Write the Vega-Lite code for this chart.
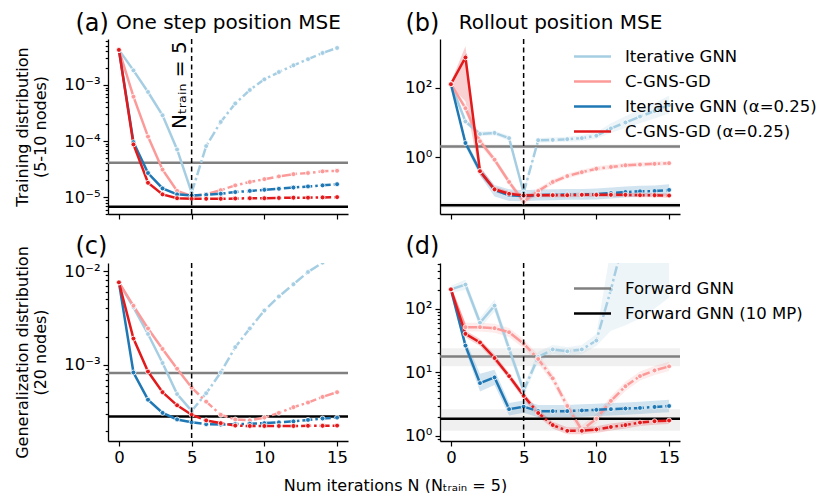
{
"$schema":"https://vega.github.io/schema/vega-lite/v6.json",
"background":"white",
"padding":{"left":14,"top":11,"right":0,"bottom":0},
"bounds":"flush",
"columns":2,
"spacing":{"row":49,"column":92},
"config":{
 "font":"DejaVu Sans",
 "view":{"stroke":null},
 "axis":{"labelFont":"DejaVu Sans","titleFont":"DejaVu Sans","labelFontSize":16.5,"titleFontSize":16,"titleFontWeight":"normal","labelColor":"black","titleColor":"black","domainColor":"black","tickColor":"black","grid":false,"domainWidth":1.3,"tickWidth":1.2,"labelOverlap":false},
 "text":{"font":"DejaVu Sans","color":"black"}
},
"datasets":{
"ba":[{"name":"Forward GNN","v":4.1e-5},{"name":"Forward GNN (10 MP)","v":6.7e-6}],
"bb":[{"name":"Forward GNN","v":2.04,"lo":1.78,"hi":2.34},{"name":"Forward GNN (10 MP)","v":0.0417,"lo":0.035,"hi":0.05}],
"bc":[{"name":"Forward GNN","v":8.22e-4},{"name":"Forward GNN (10 MP)","v":2.82e-4}],
"bd":[{"name":"Forward GNN","v":17.8,"lo":12.4,"hi":24},{"name":"Forward GNN (10 MP)","v":1.86,"lo":1.2,"hi":2.63}],
"a":[
{"s":"Iterative GNN","x":0,"v":4.22e-3},{"s":"Iterative GNN","x":1,"v":1.82e-3},{"s":"Iterative GNN","x":2,"v":7.5e-4},{"s":"Iterative GNN","x":3,"v":2.88e-4},{"s":"Iterative GNN","x":4,"v":7.08e-5},{"s":"Iterative GNN","x":5,"v":1.2e-5},{"s":"Iterative GNN","x":6,"v":8.13e-5},{"s":"Iterative GNN","x":7,"v":2.19e-4},{"s":"Iterative GNN","x":8,"v":4.68e-4},{"s":"Iterative GNN","x":9,"v":8.13e-4},{"s":"Iterative GNN","x":10,"v":1.26e-3},{"s":"Iterative GNN","x":11,"v":1.7e-3},{"s":"Iterative GNN","x":12,"v":2.24e-3},{"s":"Iterative GNN","x":13,"v":2.88e-3},{"s":"Iterative GNN","x":14,"v":3.72e-3},{"s":"Iterative GNN","x":15,"v":4.57e-3},
{"s":"C-GNS-GD","x":0,"v":4.22e-3},{"s":"C-GNS-GD","x":1,"v":6.17e-4},{"s":"C-GNS-GD","x":2,"v":1.2e-4},{"s":"C-GNS-GD","x":3,"v":3.09e-5},{"s":"C-GNS-GD","x":4,"v":1.29e-5},{"s":"C-GNS-GD","x":5,"v":1.05e-5},{"s":"C-GNS-GD","x":6,"v":1.12e-5},{"s":"C-GNS-GD","x":7,"v":1.33e-5},{"s":"C-GNS-GD","x":8,"v":1.62e-5},{"s":"C-GNS-GD","x":9,"v":1.86e-5},{"s":"C-GNS-GD","x":10,"v":2.09e-5},{"s":"C-GNS-GD","x":11,"v":2.34e-5},{"s":"C-GNS-GD","x":12,"v":2.57e-5},{"s":"C-GNS-GD","x":13,"v":2.69e-5},{"s":"C-GNS-GD","x":14,"v":2.88e-5},{"s":"C-GNS-GD","x":15,"v":2.95e-5},
{"s":"Iterative GNN (α=0.25)","x":0,"v":4.22e-3},{"s":"Iterative GNN (α=0.25)","x":1,"v":9.55e-5},{"s":"Iterative GNN (α=0.25)","x":2,"v":2.69e-5},{"s":"Iterative GNN (α=0.25)","x":3,"v":1.43e-5},{"s":"Iterative GNN (α=0.25)","x":4,"v":1.12e-5},{"s":"Iterative GNN (α=0.25)","x":5,"v":1.07e-5},{"s":"Iterative GNN (α=0.25)","x":6,"v":1.1e-5},{"s":"Iterative GNN (α=0.25)","x":7,"v":1.15e-5},{"s":"Iterative GNN (α=0.25)","x":8,"v":1.23e-5},{"s":"Iterative GNN (α=0.25)","x":9,"v":1.29e-5},{"s":"Iterative GNN (α=0.25)","x":10,"v":1.35e-5},{"s":"Iterative GNN (α=0.25)","x":11,"v":1.41e-5},{"s":"Iterative GNN (α=0.25)","x":12,"v":1.48e-5},{"s":"Iterative GNN (α=0.25)","x":13,"v":1.55e-5},{"s":"Iterative GNN (α=0.25)","x":14,"v":1.62e-5},{"s":"Iterative GNN (α=0.25)","x":15,"v":1.7e-5},
{"s":"C-GNS-GD (α=0.25)","x":0,"v":4.22e-3},{"s":"C-GNS-GD (α=0.25)","x":1,"v":8.71e-5},{"s":"C-GNS-GD (α=0.25)","x":2,"v":1.8e-5},{"s":"C-GNS-GD (α=0.25)","x":3,"v":1.12e-5},{"s":"C-GNS-GD (α=0.25)","x":4,"v":9.55e-6},{"s":"C-GNS-GD (α=0.25)","x":5,"v":9.33e-6},{"s":"C-GNS-GD (α=0.25)","x":6,"v":9.33e-6},{"s":"C-GNS-GD (α=0.25)","x":7,"v":9.33e-6},{"s":"C-GNS-GD (α=0.25)","x":8,"v":9.44e-6},{"s":"C-GNS-GD (α=0.25)","x":9,"v":9.55e-6},{"s":"C-GNS-GD (α=0.25)","x":10,"v":9.55e-6},{"s":"C-GNS-GD (α=0.25)","x":11,"v":9.66e-6},{"s":"C-GNS-GD (α=0.25)","x":12,"v":9.77e-6},{"s":"C-GNS-GD (α=0.25)","x":13,"v":9.77e-6},{"s":"C-GNS-GD (α=0.25)","x":14,"v":9.89e-6},{"s":"C-GNS-GD (α=0.25)","x":15,"v":1.0e-5}
],
"b":[
{"s":"Iterative GNN","x":0,"v":126,"lo":110,"hi":145},{"s":"Iterative GNN","x":1,"v":10.7,"lo":9,"hi":13},{"s":"Iterative GNN","x":2,"v":4.68,"lo":4,"hi":5.5},{"s":"Iterative GNN","x":3,"v":5.01,"lo":4.3,"hi":5.8},{"s":"Iterative GNN","x":4,"v":3.55,"lo":3,"hi":4.2},{"s":"Iterative GNN","x":5,"v":0.0955,"lo":0.08,"hi":0.115},{"s":"Iterative GNN","x":6,"v":3.09,"lo":2.6,"hi":3.6},{"s":"Iterative GNN","x":7,"v":3.16,"lo":2.7,"hi":3.7},{"s":"Iterative GNN","x":8,"v":3.31,"lo":2.8,"hi":3.9},{"s":"Iterative GNN","x":9,"v":3.55,"lo":2.9,"hi":4.3},{"s":"Iterative GNN","x":10,"v":4.17,"lo":3.4,"hi":5.2},{"s":"Iterative GNN","x":11,"v":6.76,"lo":5,"hi":9.5},{"s":"Iterative GNN","x":12,"v":10.0,"lo":7,"hi":15},{"s":"Iterative GNN","x":13,"v":14.8,"lo":9.5,"hi":24},{"s":"Iterative GNN","x":14,"v":21.4,"lo":13,"hi":36},{"s":"Iterative GNN","x":15,"v":31.6,"lo":18,"hi":60},
{"s":"C-GNS-GD","x":0,"v":126,"lo":110,"hi":145},{"s":"C-GNS-GD","x":1,"v":25.7,"lo":19,"hi":34},{"s":"C-GNS-GD","x":2,"v":2.88,"lo":2.2,"hi":3.8},{"s":"C-GNS-GD","x":3,"v":0.851,"lo":0.7,"hi":1.05},{"s":"C-GNS-GD","x":4,"v":0.195,"lo":0.16,"hi":0.24},{"s":"C-GNS-GD","x":5,"v":0.0525,"lo":0.044,"hi":0.063},{"s":"C-GNS-GD","x":6,"v":0.107,"lo":0.09,"hi":0.13},{"s":"C-GNS-GD","x":7,"v":0.195,"lo":0.165,"hi":0.23},{"s":"C-GNS-GD","x":8,"v":0.288,"lo":0.245,"hi":0.34},{"s":"C-GNS-GD","x":9,"v":0.372,"lo":0.32,"hi":0.44},{"s":"C-GNS-GD","x":10,"v":0.468,"lo":0.4,"hi":0.55},{"s":"C-GNS-GD","x":11,"v":0.525,"lo":0.45,"hi":0.62},{"s":"C-GNS-GD","x":12,"v":0.589,"lo":0.5,"hi":0.69},{"s":"C-GNS-GD","x":13,"v":0.617,"lo":0.53,"hi":0.72},{"s":"C-GNS-GD","x":14,"v":0.646,"lo":0.56,"hi":0.75},{"s":"C-GNS-GD","x":15,"v":0.676,"lo":0.59,"hi":0.78},
{"s":"Iterative GNN (α=0.25)","x":0,"v":126,"lo":110,"hi":145},{"s":"Iterative GNN (α=0.25)","x":1,"v":2.57,"lo":2.0,"hi":3.3},{"s":"Iterative GNN (α=0.25)","x":2,"v":0.398,"lo":0.3,"hi":0.52},{"s":"Iterative GNN (α=0.25)","x":3,"v":0.115,"lo":0.075,"hi":0.16},{"s":"Iterative GNN (α=0.25)","x":4,"v":0.0813,"lo":0.055,"hi":0.12},{"s":"Iterative GNN (α=0.25)","x":5,"v":0.0776,"lo":0.054,"hi":0.113},{"s":"Iterative GNN (α=0.25)","x":6,"v":0.0813,"lo":0.057,"hi":0.118},{"s":"Iterative GNN (α=0.25)","x":7,"v":0.0832,"lo":0.058,"hi":0.121},{"s":"Iterative GNN (α=0.25)","x":8,"v":0.0851,"lo":0.06,"hi":0.123},{"s":"Iterative GNN (α=0.25)","x":9,"v":0.0851,"lo":0.06,"hi":0.123},{"s":"Iterative GNN (α=0.25)","x":10,"v":0.0871,"lo":0.061,"hi":0.126},{"s":"Iterative GNN (α=0.25)","x":11,"v":0.0933,"lo":0.065,"hi":0.135},{"s":"Iterative GNN (α=0.25)","x":12,"v":0.1,"lo":0.07,"hi":0.145},{"s":"Iterative GNN (α=0.25)","x":13,"v":0.105,"lo":0.074,"hi":0.152},{"s":"Iterative GNN (α=0.25)","x":14,"v":0.107,"lo":0.075,"hi":0.155},{"s":"Iterative GNN (α=0.25)","x":15,"v":0.115,"lo":0.08,"hi":0.167},
{"s":"C-GNS-GD (α=0.25)","x":0,"v":126,"lo":110,"hi":145},{"s":"C-GNS-GD (α=0.25)","x":1,"v":741,"lo":40,"hi":1550},{"s":"C-GNS-GD (α=0.25)","x":2,"v":0.398,"lo":0.3,"hi":0.55},{"s":"C-GNS-GD (α=0.25)","x":3,"v":0.12,"lo":0.1,"hi":0.145},{"s":"C-GNS-GD (α=0.25)","x":4,"v":0.0891,"lo":0.076,"hi":0.105},{"s":"C-GNS-GD (α=0.25)","x":5,"v":0.0794,"lo":0.069,"hi":0.091},{"s":"C-GNS-GD (α=0.25)","x":6,"v":0.0813,"lo":0.071,"hi":0.094},{"s":"C-GNS-GD (α=0.25)","x":7,"v":0.0813,"lo":0.071,"hi":0.094},{"s":"C-GNS-GD (α=0.25)","x":8,"v":0.0813,"lo":0.071,"hi":0.094},{"s":"C-GNS-GD (α=0.25)","x":9,"v":0.0832,"lo":0.072,"hi":0.096},{"s":"C-GNS-GD (α=0.25)","x":10,"v":0.0832,"lo":0.072,"hi":0.096},{"s":"C-GNS-GD (α=0.25)","x":11,"v":0.0832,"lo":0.072,"hi":0.096},{"s":"C-GNS-GD (α=0.25)","x":12,"v":0.0832,"lo":0.072,"hi":0.096},{"s":"C-GNS-GD (α=0.25)","x":13,"v":0.0813,"lo":0.071,"hi":0.094},{"s":"C-GNS-GD (α=0.25)","x":14,"v":0.0813,"lo":0.071,"hi":0.094},{"s":"C-GNS-GD (α=0.25)","x":15,"v":0.0794,"lo":0.069,"hi":0.091}
],
"c":[
{"s":"Iterative GNN","x":0,"v":7.59e-3},{"s":"Iterative GNN","x":1,"v":4.11e-3},{"s":"Iterative GNN","x":2,"v":2.14e-3},{"s":"Iterative GNN","x":3,"v":1.05e-3},{"s":"Iterative GNN","x":4,"v":4.9e-4},{"s":"Iterative GNN","x":5,"v":3.24e-4},{"s":"Iterative GNN","x":6,"v":5.0e-4},{"s":"Iterative GNN","x":7,"v":8.32e-4},{"s":"Iterative GNN","x":8,"v":1.55e-3},{"s":"Iterative GNN","x":9,"v":2.45e-3},{"s":"Iterative GNN","x":10,"v":3.8e-3},{"s":"Iterative GNN","x":11,"v":5.37e-3},{"s":"Iterative GNN","x":12,"v":7.24e-3},{"s":"Iterative GNN","x":13,"v":9.77e-3},{"s":"Iterative GNN","x":14,"v":1.23e-2},{"s":"Iterative GNN","x":15,"v":1.51e-2},
{"s":"C-GNS-GD","x":0,"v":7.59e-3},{"s":"C-GNS-GD","x":1,"v":4.27e-3},{"s":"C-GNS-GD","x":2,"v":2.45e-3},{"s":"C-GNS-GD","x":3,"v":1.48e-3},{"s":"C-GNS-GD","x":4,"v":9.12e-4},{"s":"C-GNS-GD","x":5,"v":5.75e-4},{"s":"C-GNS-GD","x":6,"v":4.07e-4},{"s":"C-GNS-GD","x":7,"v":2.95e-4},{"s":"C-GNS-GD","x":8,"v":2.63e-4},{"s":"C-GNS-GD","x":9,"v":2.57e-4},{"s":"C-GNS-GD","x":10,"v":2.75e-4},{"s":"C-GNS-GD","x":11,"v":3.09e-4},{"s":"C-GNS-GD","x":12,"v":3.55e-4},{"s":"C-GNS-GD","x":13,"v":3.98e-4},{"s":"C-GNS-GD","x":14,"v":4.57e-4},{"s":"C-GNS-GD","x":15,"v":5.13e-4},
{"s":"Iterative GNN (α=0.25)","x":0,"v":7.59e-3},{"s":"Iterative GNN (α=0.25)","x":1,"v":8.32e-4},{"s":"Iterative GNN (α=0.25)","x":2,"v":4.27e-4},{"s":"Iterative GNN (α=0.25)","x":3,"v":3.09e-4},{"s":"Iterative GNN (α=0.25)","x":4,"v":2.63e-4},{"s":"Iterative GNN (α=0.25)","x":5,"v":2.45e-4},{"s":"Iterative GNN (α=0.25)","x":6,"v":2.34e-4},{"s":"Iterative GNN (α=0.25)","x":7,"v":2.32e-4},{"s":"Iterative GNN (α=0.25)","x":8,"v":2.34e-4},{"s":"Iterative GNN (α=0.25)","x":9,"v":2.37e-4},{"s":"Iterative GNN (α=0.25)","x":10,"v":2.4e-4},{"s":"Iterative GNN (α=0.25)","x":11,"v":2.45e-4},{"s":"Iterative GNN (α=0.25)","x":12,"v":2.51e-4},{"s":"Iterative GNN (α=0.25)","x":13,"v":2.6e-4},{"s":"Iterative GNN (α=0.25)","x":14,"v":2.69e-4},{"s":"Iterative GNN (α=0.25)","x":15,"v":2.75e-4},
{"s":"C-GNS-GD (α=0.25)","x":0,"v":7.59e-3},{"s":"C-GNS-GD (α=0.25)","x":1,"v":1.91e-3},{"s":"C-GNS-GD (α=0.25)","x":2,"v":8.51e-4},{"s":"C-GNS-GD (α=0.25)","x":3,"v":5.13e-4},{"s":"C-GNS-GD (α=0.25)","x":4,"v":3.72e-4},{"s":"C-GNS-GD (α=0.25)","x":5,"v":2.95e-4},{"s":"C-GNS-GD (α=0.25)","x":6,"v":2.57e-4},{"s":"C-GNS-GD (α=0.25)","x":7,"v":2.4e-4},{"s":"C-GNS-GD (α=0.25)","x":8,"v":2.26e-4},{"s":"C-GNS-GD (α=0.25)","x":9,"v":2.24e-4},{"s":"C-GNS-GD (α=0.25)","x":10,"v":2.24e-4},{"s":"C-GNS-GD (α=0.25)","x":11,"v":2.24e-4},{"s":"C-GNS-GD (α=0.25)","x":12,"v":2.24e-4},{"s":"C-GNS-GD (α=0.25)","x":13,"v":2.25e-4},{"s":"C-GNS-GD (α=0.25)","x":14,"v":2.25e-4},{"s":"C-GNS-GD (α=0.25)","x":15,"v":2.26e-4}
],
"d":[
{"s":"Iterative GNN","x":0,"v":202,"lo":175,"hi":230},{"s":"Iterative GNN","x":1,"v":240,"lo":200,"hi":290},{"s":"Iterative GNN","x":2,"v":60.3,"lo":50,"hi":72},{"s":"Iterative GNN","x":3,"v":112,"lo":90,"hi":140},{"s":"Iterative GNN","x":4,"v":23.4,"lo":19,"hi":29},{"s":"Iterative GNN","x":5,"v":5.13,"lo":4.2,"hi":6.2},{"s":"Iterative GNN","x":6,"v":17.4,"lo":14.5,"hi":21},{"s":"Iterative GNN","x":7,"v":22.9,"lo":19.5,"hi":27},{"s":"Iterative GNN","x":8,"v":21.4,"lo":18,"hi":25},{"s":"Iterative GNN","x":9,"v":22.9,"lo":19.5,"hi":27},{"s":"Iterative GNN","x":10,"v":31.6,"lo":26,"hi":40},{"s":"Iterative GNN","x":11,"v":200,"lo":45,"hi":900},{"s":"Iterative GNN","x":12,"v":1580,"lo":55,"hi":10000},{"s":"Iterative GNN","x":13,"v":3980,"lo":70,"hi":10000},{"s":"Iterative GNN","x":14,"v":10000,"lo":100,"hi":20000},{"s":"Iterative GNN","x":15,"v":20000,"lo":150,"hi":30000},
{"s":"C-GNS-GD","x":0,"v":202,"lo":175,"hi":230},{"s":"C-GNS-GD","x":1,"v":51.3,"lo":44,"hi":60},{"s":"C-GNS-GD","x":2,"v":51.3,"lo":44,"hi":60},{"s":"C-GNS-GD","x":3,"v":49.5,"lo":42,"hi":58},{"s":"C-GNS-GD","x":4,"v":42.7,"lo":36,"hi":50},{"s":"C-GNS-GD","x":5,"v":28.2,"lo":24,"hi":33},{"s":"C-GNS-GD","x":6,"v":16.2,"lo":13.8,"hi":19},{"s":"C-GNS-GD","x":7,"v":8.04,"lo":6.8,"hi":9.5},{"s":"C-GNS-GD","x":8,"v":2.95,"lo":2.5,"hi":3.5},{"s":"C-GNS-GD","x":9,"v":1.23,"lo":1.0,"hi":1.45},{"s":"C-GNS-GD","x":10,"v":1.86,"lo":1.58,"hi":2.2},{"s":"C-GNS-GD","x":11,"v":3.55,"lo":3.0,"hi":4.2},{"s":"C-GNS-GD","x":12,"v":6.03,"lo":5.1,"hi":7.1},{"s":"C-GNS-GD","x":13,"v":8.71,"lo":7.4,"hi":10.3},{"s":"C-GNS-GD","x":14,"v":10.7,"lo":9.1,"hi":12.6},{"s":"C-GNS-GD","x":15,"v":12.4,"lo":10.5,"hi":14.6},
{"s":"Iterative GNN (α=0.25)","x":0,"v":202,"lo":175,"hi":230},{"s":"Iterative GNN (α=0.25)","x":1,"v":26.3,"lo":22,"hi":32},{"s":"Iterative GNN (α=0.25)","x":2,"v":6.76,"lo":5,"hi":9.5},{"s":"Iterative GNN (α=0.25)","x":3,"v":8.32,"lo":6.3,"hi":11},{"s":"Iterative GNN (α=0.25)","x":4,"v":2.63,"lo":2.1,"hi":3.3},{"s":"Iterative GNN (α=0.25)","x":5,"v":2.88,"lo":2.3,"hi":3.6},{"s":"Iterative GNN (α=0.25)","x":6,"v":2.45,"lo":1.96,"hi":3.06},{"s":"Iterative GNN (α=0.25)","x":7,"v":2.45,"lo":1.96,"hi":3.06},{"s":"Iterative GNN (α=0.25)","x":8,"v":2.45,"lo":1.96,"hi":3.06},{"s":"Iterative GNN (α=0.25)","x":9,"v":2.51,"lo":2.0,"hi":3.14},{"s":"Iterative GNN (α=0.25)","x":10,"v":2.57,"lo":2.06,"hi":3.2},{"s":"Iterative GNN (α=0.25)","x":11,"v":2.63,"lo":2.1,"hi":3.3},{"s":"Iterative GNN (α=0.25)","x":12,"v":2.69,"lo":2.15,"hi":3.36},{"s":"Iterative GNN (α=0.25)","x":13,"v":2.75,"lo":2.2,"hi":3.44},{"s":"Iterative GNN (α=0.25)","x":14,"v":2.85,"lo":2.28,"hi":3.56},{"s":"Iterative GNN (α=0.25)","x":15,"v":2.95,"lo":2.36,"hi":3.69},
{"s":"C-GNS-GD (α=0.25)","x":0,"v":202,"lo":178,"hi":228},{"s":"C-GNS-GD (α=0.25)","x":1,"v":40.3,"lo":35.5,"hi":45.5},{"s":"C-GNS-GD (α=0.25)","x":2,"v":29.5,"lo":26,"hi":33.3},{"s":"C-GNS-GD (α=0.25)","x":3,"v":16.8,"lo":14.8,"hi":19},{"s":"C-GNS-GD (α=0.25)","x":4,"v":8.71,"lo":7.7,"hi":9.8},{"s":"C-GNS-GD (α=0.25)","x":5,"v":4.27,"lo":3.76,"hi":4.8},{"s":"C-GNS-GD (α=0.25)","x":6,"v":2.29,"lo":2.0,"hi":2.6},{"s":"C-GNS-GD (α=0.25)","x":7,"v":1.48,"lo":1.3,"hi":1.67},{"s":"C-GNS-GD (α=0.25)","x":8,"v":1.2,"lo":1.06,"hi":1.36},{"s":"C-GNS-GD (α=0.25)","x":9,"v":1.2,"lo":1.06,"hi":1.36},{"s":"C-GNS-GD (α=0.25)","x":10,"v":1.26,"lo":1.11,"hi":1.42},{"s":"C-GNS-GD (α=0.25)","x":11,"v":1.38,"lo":1.21,"hi":1.56},{"s":"C-GNS-GD (α=0.25)","x":12,"v":1.48,"lo":1.3,"hi":1.67},{"s":"C-GNS-GD (α=0.25)","x":13,"v":1.62,"lo":1.43,"hi":1.83},{"s":"C-GNS-GD (α=0.25)","x":14,"v":1.7,"lo":1.5,"hi":1.92},{"s":"C-GNS-GD (α=0.25)","x":15,"v":1.74,"lo":1.53,"hi":1.97}
]
},
"resolve":{"scale":{"x":"independent","y":"independent","color":"independent","stroke":"independent"},"legend":{"color":"independent","stroke":"independent"}},
"concat":[
{
 "width":240,"height":175,
 "resolve":{"axis":{"x":"independent","y":"independent"},"legend":{"color":"independent","stroke":"independent"}},
 "layer":[
  {"data":{"name":"ba"},"mark":{"type":"rule","strokeWidth":2.5},
   "encoding":{
    "y":{"field":"v","type":"quantitative","scale":{"type":"log","domain":[5.0e-6,6.6e-3],"nice":false},
     "axis":{"orient":"left","values":[5e-6,6e-6,7e-6,8e-6,9e-6,1e-5,2e-5,3e-5,4e-5,5e-5,6e-5,7e-5,8e-5,9e-5,1e-4,2e-4,3e-4,4e-4,5e-4,6e-4,7e-4,8e-4,9e-4,1e-3,2e-3,3e-3,4e-3,5e-3,6e-3],
      "labelExpr":"abs(log(datum.value)/LN10 - round(log(datum.value)/LN10)) < 0.01 ? ['10⁻⁵','10⁻⁴','10⁻³','10⁻²','10⁻¹','10⁰','10¹','10²','10³'][round(log(datum.value)/LN10)+5] : ''",
      "tickSize":{"condition":{"test":"abs(log(datum.value)/LN10 - round(log(datum.value)/LN10)) < 0.01","value":5},"value":2.8},
      "labelPadding":3,"title":["Training distribution","(5-10 nodes)"],"titlePadding":15,"titleLineHeight":18}},
    "stroke":{"field":"name","type":"nominal","scale":{"domain":["Forward GNN","Forward GNN (10 MP)"],"range":["#808080","#000000"]},"legend":null}}},
  {"data":{"name":"a"},"transform":[{"filter":"datum.x <= 5"}],"mark":{"type":"line","strokeWidth":2.5,"clip":true},
   "encoding":{
    "x":{"field":"x","type":"quantitative","scale":{"domain":[-0.75,15.75],"nice":false,"zero":false},
     "axis":{"orient":"bottom","values":[0,5,10,15],"labels":false,"tickSize":5,"title":"One step position MSE","titleX":120,"titleY":-186,"titleAlign":"center","titleBaseline":"alphabetic","titleAngle":0,"titleFontSize":20}},
    "y":{"field":"v","type":"quantitative","axis":null},
    "color":{"field":"s","type":"nominal","scale":{"domain":["Iterative GNN","C-GNS-GD","Iterative GNN (α=0.25)","C-GNS-GD (α=0.25)"],"range":["#a6cee3","#fb9a99","#1f78b4","#e31a1c"]},"legend":null}}},
  {"data":{"name":"a"},"transform":[{"filter":"datum.x >= 5"}],"mark":{"type":"line","strokeWidth":2.5,"strokeDash":[10,3,2.5,3],"clip":true},
   "encoding":{"x":{"field":"x","type":"quantitative","axis":null},"y":{"field":"v","type":"quantitative","axis":null},"color":{"field":"s","type":"nominal","legend":null}}},
  {"data":{"name":"a"},"mark":{"type":"point","filled":true,"size":24,"stroke":"white","strokeWidth":0.8,"opacity":1,"clip":true},
   "encoding":{"x":{"field":"x","type":"quantitative","axis":null},"y":{"field":"v","type":"quantitative","axis":null},"color":{"field":"s","type":"nominal","legend":null}}},
  {"data":{"values":[{"x":5}]},"mark":{"type":"rule","color":"black","strokeWidth":1.5,"strokeDash":[5,3.5]},
   "encoding":{"x":{"field":"x","type":"quantitative","axis":{"orient":"top","domain":false,"ticks":false,"labels":false,"title":"(a)","titleX":-33,"titleY":-9,"titleAlign":"left","titleBaseline":"alphabetic","titleAngle":0,"titleFontSize":24}}}},
  {"data":{"values":[{"x":5,"v":1.64e-4,"t":"Nₜᵣₐᵢₙ = 5"}]},"mark":{"type":"text","angle":270,"align":"left","baseline":"alphabetic","dy":-6,"fontSize":20},
   "encoding":{"x":{"field":"x","type":"quantitative","axis":null},"y":{"field":"v","type":"quantitative","axis":null},"text":{"field":"t","type":"nominal"}}}
 ]
},
{
 "width":240,"height":175,
 "resolve":{"axis":{"x":"independent","y":"independent"},"legend":{"color":"independent","stroke":"independent"}},
 "layer":[
  {"data":{"name":"bb"},"mark":{"type":"rect","color":"#808080","opacity":0.12},
   "encoding":{"y":{"field":"lo","type":"quantitative","scale":{"type":"log","domain":[0.0234,2512],"nice":false},"axis":null},"y2":{"field":"hi"}}},
  {"data":{"name":"b"},"mark":{"type":"area","opacity":0.2,"clip":true},
   "encoding":{"x":{"field":"x","type":"quantitative","scale":{"domain":[-0.75,15.75],"nice":false,"zero":false},"axis":null},"y":{"field":"lo","type":"quantitative","axis":null},"y2":{"field":"hi"},
    "color":{"field":"s","type":"nominal","scale":{"domain":["Iterative GNN","C-GNS-GD","Iterative GNN (α=0.25)","C-GNS-GD (α=0.25)"],"range":["#a6cee3","#fb9a99","#1f78b4","#e31a1c"]},"legend":null}}},
  {"data":{"name":"bb"},"mark":{"type":"rule","strokeWidth":2.5},
   "encoding":{
    "y":{"field":"v","type":"quantitative",
     "axis":{"orient":"left","values":[1,100],
      "labelExpr":"abs(log(datum.value)/LN10 - round(log(datum.value)/LN10)) < 0.01 ? ['10⁻⁵','10⁻⁴','10⁻³','10⁻²','10⁻¹','10⁰','10¹','10²','10³'][round(log(datum.value)/LN10)+5] : ''",
      "tickSize":5,"labelPadding":3,"title":null}},
    "stroke":{"field":"name","type":"nominal","scale":{"domain":["Forward GNN","Forward GNN (10 MP)"],"range":["#808080","#000000"]},"legend":null}}},
  {"data":{"name":"b"},"transform":[{"filter":"datum.x <= 5"}],"mark":{"type":"line","strokeWidth":2.5,"clip":true},
   "encoding":{
    "x":{"field":"x","type":"quantitative",
     "axis":{"orient":"bottom","values":[0,5,10,15],"labels":false,"tickSize":5,"title":"Rollout position MSE","titleX":120,"titleY":-186,"titleAlign":"center","titleBaseline":"alphabetic","titleAngle":0,"titleFontSize":20}},
    "y":{"field":"v","type":"quantitative","axis":null},
    "color":{"field":"s","type":"nominal",
     "legend":{"orient":"none","legendX":142,"legendY":7,"title":null,"symbolType":"M-2,0H2","symbolSize":342,"symbolStrokeWidth":2.5,"symbolOpacity":1,"labelFontSize":16.5,"labelColor":"black","labelFont":"DejaVu Sans","labelOffset":22,"labelLimit":400,"rowPadding":6,"padding":0}}}},
  {"data":{"name":"b"},"transform":[{"filter":"datum.x >= 5"}],"mark":{"type":"line","strokeWidth":2.5,"strokeDash":[10,3,2.5,3],"clip":true},
   "encoding":{"x":{"field":"x","type":"quantitative","axis":null},"y":{"field":"v","type":"quantitative","axis":null},"color":{"field":"s","type":"nominal","legend":null}}},
  {"data":{"name":"b"},"mark":{"type":"point","filled":true,"size":24,"stroke":"white","strokeWidth":0.8,"opacity":1,"clip":true},
   "encoding":{"x":{"field":"x","type":"quantitative","axis":null},"y":{"field":"v","type":"quantitative","axis":null},"color":{"field":"s","type":"nominal","legend":null}}},
  {"data":{"values":[{"x":5}]},"mark":{"type":"rule","color":"black","strokeWidth":1.5,"strokeDash":[5,3.5]},
   "encoding":{"x":{"field":"x","type":"quantitative","axis":{"orient":"top","domain":false,"ticks":false,"labels":false,"title":"(b)","titleX":-35,"titleY":-9,"titleAlign":"left","titleBaseline":"alphabetic","titleAngle":0,"titleFontSize":24}}}}
 ]
},
{
 "width":240,"height":178,
 "resolve":{"axis":{"x":"independent","y":"independent"},"legend":{"color":"independent","stroke":"independent"}},
 "layer":[
  {"data":{"name":"bc"},"mark":{"type":"rule","strokeWidth":2.5},
   "encoding":{
    "y":{"field":"v","type":"quantitative","scale":{"type":"log","domain":[1.55e-4,1.22e-2],"nice":false},
     "axis":{"orient":"left","values":[2e-4,3e-4,4e-4,5e-4,6e-4,7e-4,8e-4,9e-4,1e-3,2e-3,3e-3,4e-3,5e-3,6e-3,7e-3,8e-3,9e-3,1e-2],
      "labelExpr":"abs(log(datum.value)/LN10 - round(log(datum.value)/LN10)) < 0.01 ? ['10⁻⁵','10⁻⁴','10⁻³','10⁻²','10⁻¹','10⁰','10¹','10²','10³'][round(log(datum.value)/LN10)+5] : ''",
      "tickSize":{"condition":{"test":"abs(log(datum.value)/LN10 - round(log(datum.value)/LN10)) < 0.01","value":5},"value":2.8},
      "labelPadding":3,"title":["Generalization distribution","(20 nodes)"],"titlePadding":15,"titleLineHeight":18}},
    "stroke":{"field":"name","type":"nominal","scale":{"domain":["Forward GNN","Forward GNN (10 MP)"],"range":["#808080","#000000"]},"legend":null}}},
  {"data":{"name":"c"},"transform":[{"filter":"datum.x <= 5"}],"mark":{"type":"line","strokeWidth":2.5,"clip":true},
   "encoding":{
    "x":{"field":"x","type":"quantitative","scale":{"domain":[-0.75,15.75],"nice":false,"zero":false},
     "axis":{"orient":"bottom","values":[0,5,10,15],"tickSize":5,"labelPadding":3,"title":"Num iterations N (Nₜᵣₐᵢₙ = 5)","titleX":287,"titleY":49,"titleAlign":"center","titleBaseline":"alphabetic","titleAngle":0,"titleFontSize":16}},
    "y":{"field":"v","type":"quantitative","axis":null},
    "color":{"field":"s","type":"nominal","scale":{"domain":["Iterative GNN","C-GNS-GD","Iterative GNN (α=0.25)","C-GNS-GD (α=0.25)"],"range":["#a6cee3","#fb9a99","#1f78b4","#e31a1c"]},"legend":null}}},
  {"data":{"name":"c"},"transform":[{"filter":"datum.x >= 5"}],"mark":{"type":"line","strokeWidth":2.5,"strokeDash":[10,3,2.5,3],"clip":true},
   "encoding":{"x":{"field":"x","type":"quantitative","axis":null},"y":{"field":"v","type":"quantitative","axis":null},"color":{"field":"s","type":"nominal","legend":null}}},
  {"data":{"name":"c"},"mark":{"type":"point","filled":true,"size":24,"stroke":"white","strokeWidth":0.8,"opacity":1,"clip":true},
   "encoding":{"x":{"field":"x","type":"quantitative","axis":null},"y":{"field":"v","type":"quantitative","axis":null},"color":{"field":"s","type":"nominal","legend":null}}},
  {"data":{"values":[{"x":5}]},"mark":{"type":"rule","color":"black","strokeWidth":1.5,"strokeDash":[5,3.5]},
   "encoding":{"x":{"field":"x","type":"quantitative","axis":{"orient":"top","domain":false,"ticks":false,"labels":false,"title":"(c)","titleX":-33,"titleY":-10,"titleAlign":"left","titleBaseline":"alphabetic","titleAngle":0,"titleFontSize":24}}}}
 ]
},
{
 "width":240,"height":178,
 "resolve":{"axis":{"x":"independent","y":"independent"},"legend":{"color":"independent","stroke":"independent"}},
 "layer":[
  {"data":{"name":"bd"},"mark":{"type":"rect","color":"#808080","opacity":0.12},
   "encoding":{"y":{"field":"lo","type":"quantitative","scale":{"type":"log","domain":[0.83,525],"nice":false},"axis":null},"y2":{"field":"hi"}}},
  {"data":{"name":"d"},"mark":{"type":"area","opacity":0.2,"clip":true},
   "encoding":{"x":{"field":"x","type":"quantitative","scale":{"domain":[-0.75,15.75],"nice":false,"zero":false},"axis":null},"y":{"field":"lo","type":"quantitative","axis":null},"y2":{"field":"hi"},
    "color":{"field":"s","type":"nominal","scale":{"domain":["Iterative GNN","C-GNS-GD","Iterative GNN (α=0.25)","C-GNS-GD (α=0.25)"],"range":["#a6cee3","#fb9a99","#1f78b4","#e31a1c"]},"legend":null}}},
  {"data":{"name":"bd"},"mark":{"type":"rule","strokeWidth":2.5},
   "encoding":{
    "y":{"field":"v","type":"quantitative",
     "axis":{"orient":"left","values":[0.9,1,2,3,4,5,6,7,8,9,10,20,30,40,50,60,70,80,90,100,200,300,400,500],
      "labelExpr":"abs(log(datum.value)/LN10 - round(log(datum.value)/LN10)) < 0.01 ? ['10⁻⁵','10⁻⁴','10⁻³','10⁻²','10⁻¹','10⁰','10¹','10²','10³'][round(log(datum.value)/LN10)+5] : ''",
      "tickSize":{"condition":{"test":"abs(log(datum.value)/LN10 - round(log(datum.value)/LN10)) < 0.01","value":5},"value":2.8},
      "labelPadding":3,"title":null}},
    "stroke":{"field":"name","type":"nominal","scale":{"domain":["Forward GNN","Forward GNN (10 MP)"],"range":["#808080","#000000"]},
     "legend":{"orient":"none","legendX":142,"legendY":15,"title":null,"symbolType":"M-2,0H2","symbolSize":342,"symbolStrokeWidth":2.5,"symbolOpacity":1,"labelFontSize":16.5,"labelColor":"black","labelFont":"DejaVu Sans","labelOffset":22,"labelLimit":400,"rowPadding":6,"padding":0}}}},
  {"data":{"name":"d"},"transform":[{"filter":"datum.x <= 5"}],"mark":{"type":"line","strokeWidth":2.5,"clip":true},
   "encoding":{
    "x":{"field":"x","type":"quantitative",
     "axis":{"orient":"bottom","values":[0,5,10,15],"tickSize":5,"labelPadding":3,"title":null}},
    "y":{"field":"v","type":"quantitative","axis":null},
    "color":{"field":"s","type":"nominal","legend":null}}},
  {"data":{"name":"d"},"transform":[{"filter":"datum.x >= 5"}],"mark":{"type":"line","strokeWidth":2.5,"strokeDash":[10,3,2.5,3],"clip":true},
   "encoding":{"x":{"field":"x","type":"quantitative","axis":null},"y":{"field":"v","type":"quantitative","axis":null},"color":{"field":"s","type":"nominal","legend":null}}},
  {"data":{"name":"d"},"mark":{"type":"point","filled":true,"size":24,"stroke":"white","strokeWidth":0.8,"opacity":1,"clip":true},
   "encoding":{"x":{"field":"x","type":"quantitative","axis":null},"y":{"field":"v","type":"quantitative","axis":null},"color":{"field":"s","type":"nominal","legend":null}}},
  {"data":{"values":[{"x":5}]},"mark":{"type":"rule","color":"black","strokeWidth":1.5,"strokeDash":[5,3.5]},
   "encoding":{"x":{"field":"x","type":"quantitative","axis":{"orient":"top","domain":false,"ticks":false,"labels":false,"title":"(d)","titleX":-35,"titleY":-10,"titleAlign":"left","titleBaseline":"alphabetic","titleAngle":0,"titleFontSize":24}}}}
 ]
}
]
}
